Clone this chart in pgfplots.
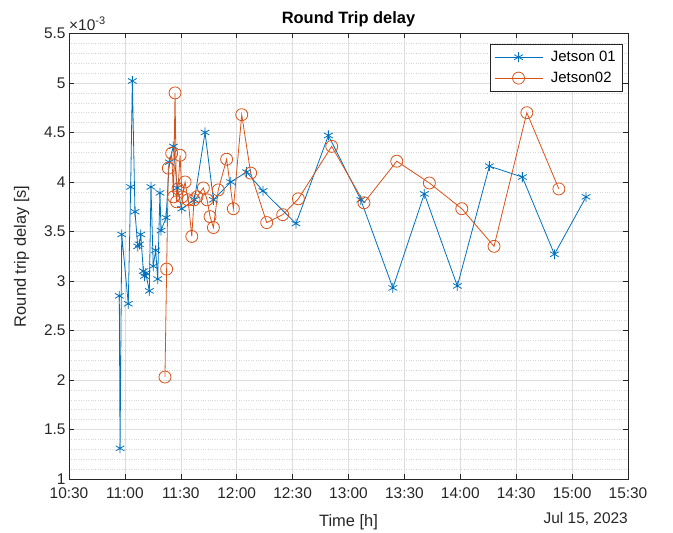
\documentclass[border=0pt]{standalone}
\usepackage{fontspec}
\setmainfont{Liberation Sans}
\usepackage{pgfplots}
\usepackage{pgfplotstable}
\pgfplotsset{compat=1.18}
\definecolor{mblue}{rgb}{0,0.447,0.741}
\definecolor{morange}{rgb}{0.851,0.325,0.098}
\definecolor{axcol}{rgb}{0.15,0.15,0.15}
% x = minutes after 10:30, y = delay in 1e-3 s
\pgfplotstableread{
t v
27.0 2.85
27.4 1.31
28.3 3.47
31.8 2.77
33.1 3.95
34.0 5.02
35.4 3.70
36.9 3.35
37.8 3.37
38.5 3.47
39.9 3.10
40.5 3.05
41.2 3.08
43.1 2.90
44.0 3.95
45.2 3.15
46.5 3.31
47.6 3.02
48.8 3.89
49.4 3.51
52.1 3.64
53.8 4.20
56.0 4.36
58.1 3.94
60.5 3.73
67.3 3.82
73.0 4.50
77.5 3.82
86.8 4.00
95.3 4.10
104.1 3.91
121.8 3.58
139.2 4.47
156.6 3.82
173.8 2.93
190.7 3.88
208.4 2.95
225.6 4.16
243.3 4.05
260.5 3.27
277.5 3.85
}\jetA
\pgfplotstableread{
t v
51.5 2.03
52.4 3.12
53.3 4.14
55.1 4.29
56.1 3.85
56.9 4.90
57.7 3.80
58.5 3.93
59.6 4.27
60.7 3.85
62.3 4.00
63.9 3.82
65.9 3.45
67.1 3.82
68.7 3.85
72.1 3.94
74.1 3.82
75.7 3.65
77.5 3.54
80.1 3.92
84.6 4.23
88.2 3.73
92.7 4.68
97.5 4.09
106.1 3.59
114.7 3.67
123.1 3.83
141.0 4.36
158.3 3.79
175.9 4.21
193.4 3.99
210.8 3.73
228.1 3.35
245.7 4.70
262.9 3.93
}\jetB
\begin{document}
\begin{tikzpicture}
\begin{axis}[
  name=ax, at={(0,0)}, anchor=south west,
  scale only axis, width=559bp, height=445.5bp,
  xmin=0, xmax=300, ymin=1, ymax=5.5,
  xtick={0,30,60,90,120,150,180,210,240,270,300},
  xticklabels={10:30,11:00,11:30,12:00,12:30,13:00,13:30,14:00,14:30,15:00,15:30},
  ytick={1,1.5,2,2.5,3,3.5,4,4.5,5,5.5},
  yticklabels={1,1.5,2,2.5,3,3.5,4,4.5,5,5.5},
  minor y tick num=4,
  grid=both,
  major grid style={color=black!13, line width=0.5bp},
  minor grid style={color=black!16, dotted, line width=0.5bp},
  tick align=inside, major tick length=5bp, minor tick length=0bp,
  axis line style={axcol, line width=0.6bp},
  tick style={axcol, line width=0.6bp},
  tick label style={font=\fontsize{15.5}{18}\selectfont, text=axcol},
  xticklabel style={yshift=-5bp},
  /pgf/number format/assume math mode=true,
  xlabel={Time [h]},
  ylabel={Round trip delay [s]},
  label style={font=\fontsize{16.5}{19}\selectfont, text=axcol},
  xlabel style={yshift=-9bp},
  ylabel style={yshift=8bp},
  title={Round Trip delay},
  title style={font=\bfseries\fontsize{16.5}{19}\selectfont, yshift=-3bp},
  legend style={at={(1,1)}, anchor=north east, xshift=-6bp, yshift=-10.5bp,
    font=\fontsize{15}{17}\selectfont, draw=axcol, line width=0.5bp,
    inner xsep=4bp, inner ysep=5bp, row sep=5bp, cells={anchor=west}},
  legend image code/.code={\draw[mark repeat=2,mark phase=2] plot coordinates {(0bp,0bp)(24bp,0bp)(48bp,0bp)};\path (54bp,0bp);},
  clip=false,
]
\addplot[color=mblue, line width=0.8bp, mark=asterisk, mark size=5bp, mark options={solid, line width=0.8bp}] table[x=t,y=v] {\jetA};
\addlegendentry{Jetson 01}
\addplot[color=morange, line width=0.8bp, mark=o, mark size=6bp, mark options={solid, line width=0.8bp}] table[x=t,y=v] {\jetB};
\addlegendentry{Jetson02}
\node[anchor=south west, inner sep=0pt, text=axcol] at (rel axis cs:0,1) [yshift=3bp] {\fontsize{15.5}{18}\selectfont ×10\raisebox{6bp}{\fontsize{11}{12}\selectfont -3}};
\node[anchor=north east, inner sep=0pt, text=axcol] at (rel axis cs:1,0) [yshift=-33bp] {\fontsize{15.5}{18}\selectfont Jul 15, 2023};
\end{axis}
\path ([shift={(-69bp,-53bp)}]ax.south west) rectangle ([shift={(45bp,33.5bp)}]ax.north east);
\end{tikzpicture}
\end{document}
